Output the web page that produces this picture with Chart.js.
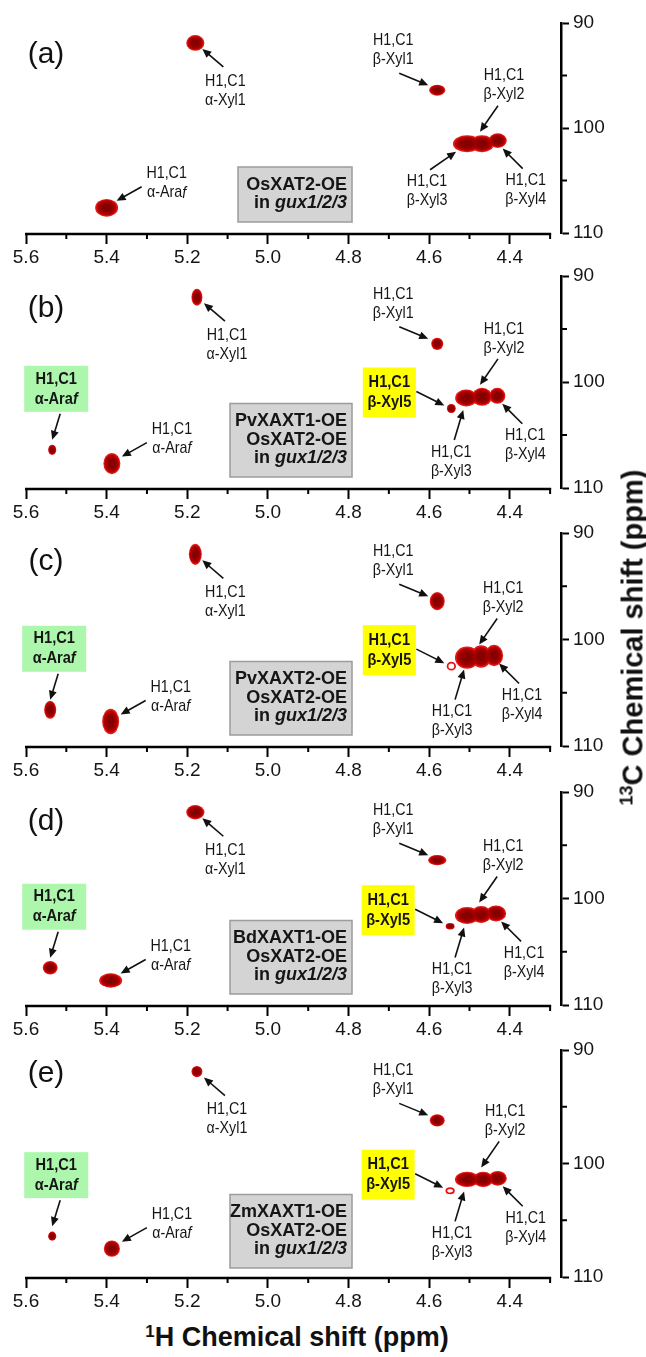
<!DOCTYPE html>
<html>
<head>
<meta charset="utf-8">
<script src="https://cdn.jsdelivr.net/npm/chart.js"></script>
<style>
body { margin: 0; background: #fff; width: 646px; height: 1357px; position: relative; overflow: hidden;
       font-family: "Liberation Sans", Arial, sans-serif; }
.panel { position: absolute; left: 0; width: 646px; }
.title { position: absolute; font-weight: bold; color: #111; white-space: nowrap; text-align: center; }
.title sup { font-size: 0.62em; vertical-align: 0.55em; line-height: 0; }
#ytitle { font-size: 29px; width: 420px; left: 423px; top: 621px; transform: rotate(-90deg); }
#xtitle { font-size: 27px; width: 420px; left: 87px; top: 1322px; }
</style>
</head>
<body>
<div id="panels"></div>
<div class="title" id="ytitle"><sup>13</sup>C Chemical shift (ppm)</div>
<div class="title" id="xtitle"><sup>1</sup>H Chemical shift (ppm)</div>
<script>
// ---- data ----
const panelTags = ['(a)', '(b)', '(c)', '(d)', '(e)'];
const sampleLines = [
    ['OsXAT2-OE', 'in gux1/2/3'],
    ['PvXAXT1-OE', 'OsXAT2-OE', 'in gux1/2/3'],
    ['PvXAXT2-OE', 'OsXAT2-OE', 'in gux1/2/3'],
    ['BdXAXT1-OE', 'OsXAT2-OE', 'in gux1/2/3'],
    ['ZmXAXT1-OE', 'OsXAT2-OE', 'in gux1/2/3']
];
const peakNames = ['α-Xyl1', 'α-Araf', 'β-Xyl1', 'β-Xyl3', 'β-Xyl2', 'β-Xyl4', 'β-Xyl5', 'α-Araf new'];
// 1H shift (ppm), one row per panel, same order as peakNames (null = absent)
const shiftH = [
    [5.180, 5.400, 4.580, 4.506, 4.469, 4.430, null, null],
    [5.176, 5.387, 4.580, 4.508, 4.469, 4.431, 4.545, 5.535],
    [5.180, 5.390, 4.580, 4.506, 4.471, 4.439, 4.545, 5.540],
    [5.180, 5.390, 4.580, 4.506, 4.471, 4.434, 4.548, 5.540],
    [5.176, 5.387, 4.580, 4.506, 4.466, 4.430, 4.548, 5.535]
];
// 13C shift (ppm)
const shiftC = [
    [91.9, 107.6, 96.4, 101.5, 101.5, 101.2, null, null],
    [92.0, 107.7, 96.4, 101.5, 101.4, 101.3, 102.5, 106.4],
    [92.0, 107.7, 96.4, 101.7, 101.6, 101.5, 102.5, 106.6],
    [91.9, 107.7, 96.4, 101.6, 101.5, 101.4, 102.6, 106.5],
    [91.9, 107.5, 96.2, 101.4, 101.4, 101.3, 102.4, 106.4]
];
// cross-peak extent along 1H / 13C (ppm)
const widthH = [
    [0.045, 0.057, 0.040, 0.070, 0.060, 0.045, null, null],
    [0.027, 0.042, 0.030, 0.055, 0.050, 0.040, 0.022, 0.020],
    [0.032, 0.042, 0.037, 0.060, 0.050, 0.045, 0.022, 0.030],
    [0.045, 0.057, 0.045, 0.060, 0.050, 0.050, 0.022, 0.037],
    [0.027, 0.040, 0.037, 0.060, 0.050, 0.045, 0.022, 0.020]
];
const widthC = [
    [1.5, 1.7, 1.05, 1.6, 1.6, 1.4, null, null],
    [1.6, 2.0, 1.15, 1.6, 1.7, 1.5, 0.86, 0.95],
    [2.0, 2.4, 1.7, 2.1, 2.1, 2.0, 0.77, 1.7],
    [1.35, 1.35, 0.95, 1.6, 1.6, 1.5, 0.6, 1.25],
    [1.0, 1.45, 1.1, 1.35, 1.35, 1.3, 0.55, 0.8]
];
const openXyl5 = [false, false, true, false, true];
const xMajor = [5.6, 5.4, 5.2, 5.0, 4.8, 4.6, 4.4];
const xMinor = [5.5, 5.3, 5.1, 4.9, 4.7, 4.5, 4.3];
const yMajor = [90, 100, 110];
const yMinor = [95, 105];

// ---- layout ----
const panelTop = [23, 276, 533, 792, 1050];
const panelBottom = [233, 488, 746, 1005, 1277];
const tagDy = [32, 33, 29, 30, 24];
const FONT = '"Liberation Sans", Arial, sans-serif';
Chart.defaults.font.family = FONT;

// label offsets in px from the peak centre: t = text, a = arrow start/end
const labelPos = {
    'α-Xyl1': { t: [30, 38], a: [28, 24, 7, 6] },
    'α-Araf': { t: [60, -34], a: [35, -21, 10, -7] },
    'β-Xyl1': { t: [-44, -50], a: [-38, -17, -9, -5] },
    'β-Xyl3': { t: [-15, 54], a: [-12, 42, -3, 12] },
    'β-Xyl2': { t: [22, -68], a: [16, -38, -2, -12] },
    'β-Xyl4': { t: [28, 40], a: [25, 28, 5, 8] },
    'β-Xyl5': { t: [-62, -16], a: [-35, -17, -7, -3], box: '#ffff00', w: 53, h: 50 },
    'α-Araf new': { t: [4, -61], a: [8, -36, 0, -10], box: '#adf7ad', w: 64, h: 46 }
};
const labelPosA = { 'β-Xyl3': { t: [-40, 38], a: [-37, 26, -11, 8] } };

function nameSegs(name) {
    const n = name.replace(' new', '');
    if (n.endsWith('f')) return [[n.slice(0, -1), false], ['f', true]];
    return [[n, false]];
}

function drawRich(ctx, segs, x, cy, size, bold, sx, align) {
    const fontOf = it => (it ? 'italic ' : '') + (bold ? 'bold ' : '') + size + 'px ' + FONT;
    let w = 0;
    segs.forEach(s => { ctx.font = fontOf(s[1]); w += ctx.measureText(s[0]).width; });
    ctx.save();
    ctx.translate(align === 'right' ? x - w * sx : x - w * sx / 2, cy);
    ctx.scale(sx, 1);
    ctx.textBaseline = 'middle';
    ctx.textAlign = 'left';
    ctx.fillStyle = '#151515';
    let cx = 0;
    segs.forEach(s => {
        ctx.font = fontOf(s[1]);
        ctx.fillText(s[0], cx, 0);
        cx += ctx.measureText(s[0]).width;
    });
    ctx.restore();
}

function arrow(ctx, x0, y0, x1, y1) {
    const ang = Math.atan2(y1 - y0, x1 - x0);
    const len = 9, hw = 4;
    ctx.save();
    ctx.strokeStyle = '#111';
    ctx.fillStyle = '#111';
    ctx.lineWidth = 1.6;
    ctx.beginPath();
    ctx.moveTo(x0, y0);
    ctx.lineTo(x1 - Math.cos(ang) * len * 0.8, y1 - Math.sin(ang) * len * 0.8);
    ctx.stroke();
    ctx.beginPath();
    ctx.moveTo(x1, y1);
    ctx.lineTo(x1 - Math.cos(ang) * len + Math.sin(ang) * hw, y1 - Math.sin(ang) * len - Math.cos(ang) * hw);
    ctx.lineTo(x1 - Math.cos(ang) * len - Math.sin(ang) * hw, y1 - Math.sin(ang) * len + Math.cos(ang) * hw);
    ctx.closePath();
    ctx.fill();
    ctx.restore();
}

const nmrPlugin = {
    id: 'nmr',
    afterDraw(chart) {
        const k = chart.options.plugins.nmr.panel;
        const ctx = chart.ctx, xs = chart.scales.x, ys = chart.scales.y, area = chart.chartArea;

        // axis line and minor ticks
        ctx.save();
        ctx.strokeStyle = '#000';
        ctx.lineWidth = 2.5;
        ctx.beginPath();
        ctx.moveTo(xs.getPixelForValue(5.6) - 1, area.bottom + 1);
        ctx.lineTo(xs.getPixelForValue(4.3) + 1, area.bottom + 1);
        ctx.stroke();
        ctx.lineWidth = 2;
        xMinor.forEach(v => {
            const px = xs.getPixelForValue(v);
            ctx.beginPath(); ctx.moveTo(px, area.bottom); ctx.lineTo(px, area.bottom + 6); ctx.stroke();
        });
        yMinor.forEach(v => {
            const py = ys.getPixelForValue(v);
            ctx.beginPath(); ctx.moveTo(area.right, py); ctx.lineTo(area.right + 6, py); ctx.stroke();
        });
        ctx.restore();

        // cross peaks, drawn as stacked contour levels
        const ds = chart.data.datasets[0];
        const peaks = chart.getDatasetMeta(0).data.map((el, i) => {
            const d = ds.data[i];
            return {
                x: el.x, y: el.y, name: d.name, open: d.open,
                rx: Math.abs(xs.getPixelForValue(d.x + d.wh / 2) - el.x),
                ry: Math.abs(ys.getPixelForValue(d.y + d.wc / 2) - el.y)
            };
        });
        const levels = [[1, '#e01a1a'], [0.86, '#b80000'], [0.68, '#9a0000'], [0.45, '#860000']];
        ctx.save();
        levels.forEach(([f, col]) => {
            ctx.fillStyle = col;
            peaks.forEach(p => {
                if (p.open) return;
                ctx.beginPath();
                ctx.ellipse(p.x, p.y, p.rx * f, p.ry * f, 0, 0, Math.PI * 2);
                ctx.fill();
            });
        });
        peaks.forEach(p => {
            if (!p.open) return;
            ctx.strokeStyle = '#ee1111';
            ctx.lineWidth = 1.8;
            ctx.beginPath();
            ctx.ellipse(p.x, p.y, p.rx * 0.85, p.ry * 0.85, 0, 0, Math.PI * 2);
            ctx.stroke();
        });
        ctx.restore();

        // peak labels
        const pos = Object.assign({}, labelPos, k === 0 ? labelPosA : {});
        peaks.forEach(p => {
            const L = pos[p.name];
            if (!L) return;
            arrow(ctx, p.x + L.a[0], p.y + L.a[1], p.x + L.a[2], p.y + L.a[3]);
            const cx = p.x + L.t[0], cy = p.y + L.t[1];
            if (L.box) {
                ctx.fillStyle = L.box;
                ctx.fillRect(cx - L.w / 2, cy - L.h / 2, L.w, L.h);
                drawRich(ctx, [['H1,C1', false]], cx, cy - 10, 17, true, 0.86);
                drawRich(ctx, nameSegs(p.name), cx, cy + 10, 17, true, 0.86);
            } else {
                drawRich(ctx, [['H1,C1', false]], cx, cy, 17, false, 0.84);
                drawRich(ctx, nameSegs(p.name), cx, cy + 19, 17, false, 0.84);
            }
        });

        // sample box
        const lines = sampleLines[k];
        const bh = lines.length * 18.5 + 18;
        const right = area.left + 326, left = area.left + (lines.length === 2 ? 212 : 204);
        const bottom = area.bottom - (k === 4 ? 9 : 11), top = bottom - bh;
        ctx.save();
        ctx.fillStyle = '#d4d4d4';
        ctx.strokeStyle = '#9c9c9c';
        ctx.lineWidth = 1.5;
        ctx.fillRect(left, top, right - left, bh);
        ctx.strokeRect(left, top, right - left, bh);
        ctx.restore();
        lines.forEach((ln, i) => {
            const segs = ln.startsWith('in ') ? [['in ', false], [ln.slice(3), true]] : [[ln, false]];
            drawRich(ctx, segs, right - 5, top + 18 + i * 18.5, 18, true, 1, 'right');
        });

        // panel tag
        ctx.save();
        ctx.font = '30px ' + FONT;
        ctx.fillStyle = '#111';
        ctx.textAlign = 'center';
        ctx.textBaseline = 'middle';
        ctx.fillText(panelTags[k], area.left + 20, area.top + tagDy[k]);
        ctx.restore();
    }
};

function peakPoints(k) {
    const pts = [];
    peakNames.forEach((name, i) => {
        if (shiftH[k][i] == null) return;
        pts.push({
            x: shiftH[k][i], y: shiftC[k][i], wh: widthH[k][i], wc: widthC[k][i],
            name: name, open: name === 'β-Xyl5' && openXyl5[k]
        });
    });
    return pts;
}

const holder = document.getElementById('panels');
panelTags.forEach((tag, k) => {
    const h = panelBottom[k] - panelTop[k] + 20 + 36;
    const div = document.createElement('div');
    div.className = 'panel';
    div.style.top = (panelTop[k] - 20) + 'px';
    div.style.height = h + 'px';
    const canvas = document.createElement('canvas');
    canvas.width = 646;
    canvas.height = h;
    div.appendChild(canvas);
    holder.appendChild(div);

    new Chart(canvas, {
        type: 'scatter',
        data: { datasets: [{ data: peakPoints(k), pointRadius: 0, pointHoverRadius: 0 }] },
        options: {
            responsive: false,
            animation: false,
            events: [],
            layout: { padding: { top: 20, left: 26, right: 0, bottom: 0 } },
            plugins: { legend: { display: false }, tooltip: { enabled: false }, nmr: { panel: k } },
            scales: {
                x: {
                    type: 'linear', reverse: true, min: 4.273, max: 5.6,
                    border: { display: false },
                    grid: { drawOnChartArea: false, tickLength: 11, tickWidth: 2, tickColor: '#000' },
                    ticks: { font: { size: 19 }, color: '#151515', padding: 2, maxRotation: 0, autoSkip: false,
                             callback: v => Number(v).toFixed(1) },
                    afterBuildTicks: s => { s.ticks = xMajor.map(v => ({ value: v })); },
                    afterFit: s => { s.height = 36; }
                },
                y: {
                    type: 'linear', position: 'right', reverse: true, min: 90, max: 110,
                    border: { display: true, width: 2.5, color: '#000' },
                    grid: { drawOnChartArea: false, tickLength: 8, tickWidth: 2, tickColor: '#000' },
                    ticks: { font: { size: 19 }, color: '#151515', padding: 4, callback: v => String(v) },
                    afterBuildTicks: s => { s.ticks = yMajor.map(v => ({ value: v })); },
                    afterFit: s => { s.width = 85; }
                }
            }
        },
        plugins: [nmrPlugin]
    });
});
</script>
</body>
</html>
